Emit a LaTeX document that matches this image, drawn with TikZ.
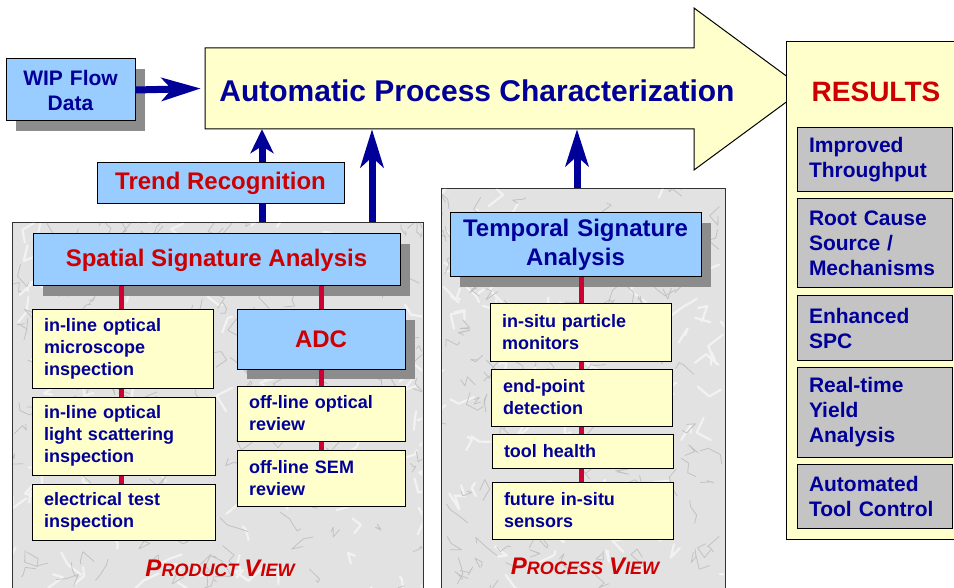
\documentclass[tikz,border=0pt]{standalone}
\usepackage{fontspec}
\setmainfont{Liberation Sans}
\usetikzlibrary{arrows.meta,shadows}
\definecolor{navy}{HTML}{000099}
\definecolor{tred}{HTML}{CC0000}
\definecolor{lblue}{HTML}{99CCFF}
\definecolor{lyellow}{HTML}{FFFFCC}
\definecolor{lgray}{HTML}{C4C4C4}
\definecolor{shgray}{HTML}{8C8C8C}
\definecolor{crimson}{HTML}{CC0033}
\definecolor{marble}{HTML}{E2E2E2}
\definecolor{vein}{HTML}{C2C2C2}
\definecolor{veinlight}{HTML}{F2F2F2}
\begin{document}
\begin{tikzpicture}[x=1pt,y=-1pt,
  box/.style={draw=black, line width=1pt, inner xsep=12pt, inner ysep=0pt},
  shad/.style={drop shadow={shadow xshift=10pt, shadow yshift=-10pt, opacity=1, fill=shgray}},
  itembox/.style={box, fill=lyellow, text=navy, align=left,
    font=\fontsize{18}{22}\selectfont\bfseries},
  bluebox/.style={box, fill=lblue, align=center, shad},
  resbox/.style={box, fill=lgray, text=navy, align=left, text width=131pt,
    minimum width=155pt, font=\fontsize{21}{25}\selectfont\bfseries},
  panel/.style={draw=black!80, line width=1pt, fill=marble, inner sep=0pt, anchor=north west},
  navyline/.style={draw=navy, line width=7pt},
  redline/.style={draw=crimson, line width=5pt},
  viewlabel/.style={text=tred, font=\bfseries\itshape, inner sep=0pt}
]
\useasboundingbox (0,0) rectangle (954,588);
\clip (0,0) rectangle (954,588);
\fill[white] (0,0) rectangle (954,588);

% marble panels
\node[panel, minimum width=411pt, minimum height=400pt] (lpanel) at (12,222) {};
\node[panel, minimum width=284pt, minimum height=420pt] (rpanel) at (441,188) {};
\begin{scope}
  \clip (13,223) rectangle (422,600) (442,189) rectangle (724,600);
  \pgfmathsetseed{5}
  \foreach \i in {1,...,220}{
    \pgfmathsetmacro\xa{12+rnd*713}
    \pgfmathsetmacro\ya{188+rnd*400}
    \draw[veinlight, line width=2.2pt, line join=round, line cap=round]
      (\xa,\ya) -- ++({rand*16},{rand*16}) -- ++({rand*16},{rand*16});
  }
  \pgfmathsetseed{11}
  \foreach \i in {1,...,320}{
    \pgfmathsetmacro\xa{12+rnd*713}
    \pgfmathsetmacro\ya{188+rnd*400}
    \draw[vein, line width=0.8pt, line join=round, line cap=round]
      (\xa,\ya) -- ++({rand*12},{rand*12}) -- ++({rand*12},{rand*12}) -- ++({rand*12},{rand*12});
  }
\end{scope}

% big arrow
\node[inner sep=0pt, minimum width=489pt, minimum height=81pt] (apc) at (449.5,88.5) {};
\draw[fill=lyellow, line width=1pt, line join=miter]
  (205,48) -- (694,48) -- (694,8) -- (804,89) -- (694,170) -- (694,129) -- (205,129) -- cycle;
\node[text=navy, font=\fontsize{30}{30}\selectfont\bfseries] (title) at (477,91) {Automatic Process Characterization};

% results panel
\node[draw=black, line width=1pt, fill=lyellow, inner sep=0pt, anchor=north west,
  minimum width=190pt, minimum height=498pt] (respanel) at (786,41) {};
\node[text=tred, font=\fontsize{28}{28}\selectfont\bfseries] (results) at (876,92) {RESULTS};
\node[resbox, minimum height=64pt] (r1) at (874.5,160) {Improved\\Throughput};
\node[resbox, minimum height=89pt] (r2) at (874.5,243.5) {Root Cause\\Source /\\Mechanisms};
\node[resbox, minimum height=64pt] (r3) at (874.5,328) {Enhanced\\SPC};
\node[resbox, minimum height=90pt] (r4) at (874.5,412) {Real-time\\Yield\\Analysis};
\node[resbox, minimum height=64pt] (r5) at (874.5,496) {Automated\\Tool Control};

% WIP box
\node[bluebox, text=navy, minimum width=129pt, minimum height=62pt, text width=120pt, inner xsep=4.5pt,
  font=\fontsize{21}{25}\selectfont\bfseries] (wip) at (70.5,90) {WIP Flow\\Data};

% Trend
\node[box, fill=lblue, text=tred, minimum width=247pt, minimum height=41pt,
  font=\fontsize{24}{24}\selectfont\bfseries] (trend) at (220.5,183.5) {Trend Recognition};

% Spatial
\node[bluebox, text=tred, minimum width=367pt, minimum height=52pt,
  font=\fontsize{24}{24}\selectfont\bfseries] (spatial) at (216.5,260) {Spatial Signature Analysis};

% Temporal
\node[bluebox, text=navy, minimum width=251pt, minimum height=64pt, text width=245pt, inner xsep=3pt,
  font=\fontsize{24}{29}\selectfont\bfseries] (temporal) at (575.5,245) {Temporal Signature\\Analysis};

% ADC
\node[bluebox, text=tred, minimum width=168pt, minimum height=59pt,
  font=\fontsize{24}{24}\selectfont\bfseries] (adc) at (321,339.5) {ADC};

% left items
\node[itembox, text width=157pt, minimum height=78pt] (i1) at (122.5,349) {in-line optical\\microscope\\inspection};
\node[itembox, text width=159pt, minimum height=78pt] (i2) at (123.5,436) {in-line optical\\light scattering\\inspection};
\node[itembox, text width=159pt, minimum height=56pt] (i3) at (123.5,512) {electrical test\\inspection};
\node[itembox, text width=144pt, minimum height=55pt] (o1) at (321,413.5) {off-line optical\\review};
\node[itembox, text width=144pt, minimum height=56pt] (o2) at (321,478) {off-line SEM\\review};

% process items
\node[itembox, text width=157pt, minimum height=57pt] (p1) at (580.5,332.5) {in-situ particle\\monitors};
\node[itembox, text width=157pt, minimum height=57pt] (p2) at (581.5,397.5) {end-point\\detection};
\node[itembox, text width=157pt, minimum height=34pt] (p3) at (582.5,451) {tool health};
\node[itembox, text width=157pt, minimum height=57pt] (p4) at (582.5,510.5) {future in-situ\\sensors};

% view labels
\node[viewlabel] (pv) at (220,568) {{\fontsize{24}{24}\selectfont P}{\fontsize{18}{18}\selectfont RODUCT}\hspace{6pt}{\fontsize{24}{24}\selectfont V}{\fontsize{18}{18}\selectfont IEW}};
\node[viewlabel] (prv) at (585,566) {{\fontsize{24}{24}\selectfont P}{\fontsize{18}{18}\selectfont ROCESS}\hspace{6pt}{\fontsize{24}{24}\selectfont V}{\fontsize{18}{18}\selectfont IEW}};

% red connectors
\coordinate (ca) at (121,0);
\coordinate (cb) at (321,0);
\coordinate (cc) at (581,0);
\draw[redline] (spatial.south -| ca) -- (i1.north -| ca);
\draw[redline] (i1.south -| ca) -- (i2.north -| ca);
\draw[redline] (i2.south -| ca) -- (i3.north -| ca);
\draw[redline] (spatial.south -| cb) -- (adc.north -| cb);
\draw[redline] (adc.south -| cb) -- (o1.north -| cb);
\draw[redline] (o1.south -| cb) -- (o2.north -| cb);
\draw[redline] (temporal.south -| cc) -- (p1.north -| cc);
\draw[redline] (p1.south -| cc) -- (p2.north -| cc);
\draw[redline] (p2.south -| cc) -- (p3.north -| cc);
\draw[redline] (p3.south -| cc) -- (p4.north -| cc);

% navy arrows
\coordinate (x1) at (262,0);
\coordinate (x2) at (372,0);
\coordinate (x3) at (577,0);
\draw[navyline] (lpanel.north -| x1) -- (trend.south -| x1);
\draw[navyline, -{Stealth[length=24pt,width=23pt,inset=7pt]}] (trend.north -| x1) -- (apc.south -| x1);
\draw[navyline, -{Stealth[length=38pt,width=23pt,inset=10pt]}] (lpanel.north -| x2) -- (apc.south -| x2);
\draw[navyline, -{Stealth[length=37pt,width=23pt,inset=10pt]}] (rpanel.north -| x3) -- (apc.south -| x3);
\draw[navyline, -{Stealth[length=39pt,width=23pt,inset=10pt]}] (wip.east) -- ([xshift=-4pt]apc.west);
\end{tikzpicture}
\end{document}
